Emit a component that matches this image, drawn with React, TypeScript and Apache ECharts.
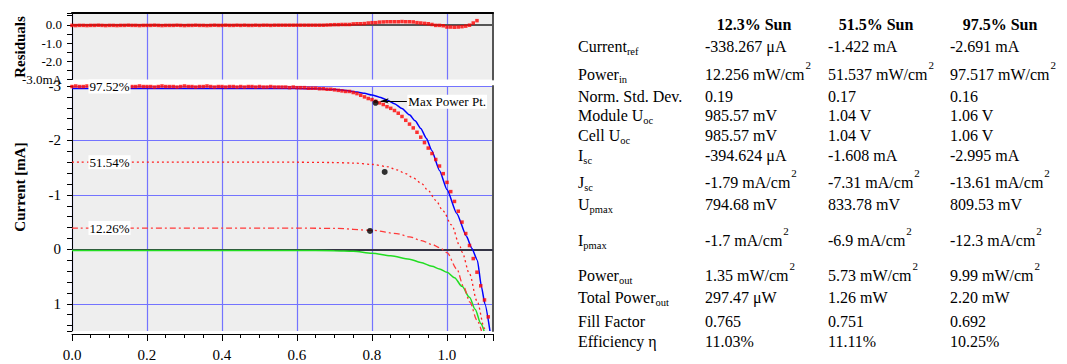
import React, { useEffect, useRef } from 'react';
import * as echarts from 'echarts';

const FONT = "'Liberation Serif', 'Times New Roman', Times, serif";
const GRID_BLUE = '#7373ff';
const BG = '#eeeeee';
const X_MAX = 1.1227;

// Voltage grid of the measured 97.5% Sun points [V]
const voltages = [
  0.00, 0.01, 0.02, 0.03, 0.04, 0.05, 0.06, 0.07, 0.08, 0.09,
  0.10, 0.11, 0.12, 0.13, 0.14, 0.15, 0.16, 0.17, 0.18, 0.19,
  0.20, 0.21, 0.22, 0.23, 0.24, 0.25, 0.26, 0.27, 0.28, 0.29,
  0.30, 0.31, 0.32, 0.33, 0.34, 0.35, 0.36, 0.37, 0.38, 0.39,
  0.40, 0.41, 0.42, 0.43, 0.44, 0.45, 0.46, 0.47, 0.48, 0.49,
  0.50, 0.51, 0.52, 0.53, 0.54, 0.55, 0.56, 0.57, 0.58, 0.59,
  0.60, 0.61, 0.62, 0.63, 0.64, 0.65, 0.66, 0.67, 0.68, 0.69,
  0.70, 0.71, 0.72, 0.73, 0.74, 0.75, 0.76, 0.77, 0.78, 0.79,
  0.80, 0.81, 0.82, 0.83, 0.84, 0.85, 0.86, 0.87, 0.88, 0.89,
  0.90, 0.91, 0.92, 0.93, 0.94, 0.95, 0.96, 0.97, 0.98, 0.99,
  1.00, 1.01, 1.02, 1.03, 1.04, 1.05, 1.06, 1.07, 1.08, 1.09,
  1.10, 1.11,
];

// Measured current at 97.5% Sun [mA]
const current975 = [
  -2.99, -3.00, -2.99, -2.99, -3.00, -2.99, -2.99, -2.98, -2.99, -3.00,
  -2.99, -2.99, -3.00, -2.99, -2.99, -2.98, -2.99, -2.99, -3.00, -2.99,
  -2.99, -2.99, -2.98, -2.99, -3.00, -2.99, -2.99, -2.99, -2.98, -2.99,
  -3.00, -2.99, -2.99, -2.98, -2.99, -2.99, -3.00, -2.99, -2.98, -2.99,
  -2.99, -2.98, -2.99, -2.99, -2.98, -2.99, -2.98, -2.99, -2.99, -2.98,
  -2.99, -2.98, -2.98, -2.99, -2.98, -2.98, -2.98, -2.98, -2.97, -2.98,
  -2.97, -2.97, -2.97, -2.96, -2.96, -2.96, -2.95, -2.95, -2.94, -2.94,
  -2.93, -2.92, -2.91, -2.90, -2.90, -2.88, -2.86, -2.83, -2.80, -2.77,
  -2.75, -2.72, -2.69, -2.66, -2.62, -2.59, -2.55, -2.50, -2.44, -2.37,
  -2.30, -2.23, -2.15, -2.06, -1.96, -1.86, -1.76, -1.65, -1.53, -1.39,
  -1.23, -1.06, -0.88, -0.70, -0.50, -0.29, -0.07, 0.17, 0.42, 0.67,
  0.93, 1.24,
];

// Residuals of the 97.5% fit [mA]
const residuals975 = [
  -0.03, -0.04, -0.03, -0.03, -0.04, -0.03, -0.03, -0.02, -0.03, -0.04,
  -0.03, -0.03, -0.04, -0.03, -0.03, -0.02, -0.03, -0.03, -0.04, -0.03,
  -0.03, -0.03, -0.02, -0.03, -0.04, -0.03, -0.03, -0.03, -0.02, -0.03,
  -0.04, -0.03, -0.03, -0.02, -0.03, -0.03, -0.04, -0.03, -0.02, -0.03,
  -0.03, -0.02, -0.03, -0.03, -0.02, -0.03, -0.02, -0.03, -0.03, -0.02,
  -0.03, -0.02, -0.02, -0.03, -0.02, -0.02, -0.02, -0.02, -0.02, -0.02,
  -0.02, -0.02, -0.02, -0.02, -0.02, -0.02, -0.02, -0.02, -0.01, 0.00,
  0.01, 0.01, 0.02, 0.02, 0.02, 0.05, 0.06, 0.06, 0.07, 0.10,
  0.12, 0.12, 0.15, 0.16, 0.17, 0.17, 0.17, 0.17, 0.18, 0.17,
  0.17, 0.16, 0.12, 0.10, 0.08, 0.06, 0.02, -0.03, -0.03, -0.05,
  -0.12, -0.12, -0.13, -0.12, -0.10, -0.07, -0.02, 0.10, 0.23,
];

// Fit curve at 97.5% Sun [V, mA]
const fit975 = [
  [0, -2.955], [0.5, -2.955], [0.6, -2.952], [0.65, -2.948], [0.7, -2.935],
  [0.72, -2.925], [0.74, -2.91], [0.76, -2.89], [0.78, -2.865], [0.8, -2.835],
  [0.82, -2.795], [0.84, -2.745], [0.86, -2.675], [0.88, -2.585], [0.9, -2.47],
  [0.915, -2.36], [0.93, -2.22], [0.945, -2.04], [0.959, -1.82], [0.98, -1.45],
  [1.0, -1.1], [1.026, -0.66], [1.052, -0.24], [1.066, -0.02], [1.081, 0.2],
  [1.092, 0.69], [1.101, 1.0], [1.1146, 1.5],
];

// Curve at 51.54% Sun [V, mA]
const curve515 = [
  [0, -1.6], [0.6, -1.6], [0.69, -1.595], [0.75, -1.585], [0.8, -1.56],
  [0.84, -1.52], [0.866, -1.46], [0.89, -1.39], [0.91, -1.31], [0.932, -1.21],
  [0.95, -1.08], [0.97, -0.9], [0.99, -0.7], [1.012, -0.45], [1.035, -0.05],
  [1.04, 0.05], [1.06, 0.45], [1.08, 0.95], [1.1, 1.45], [1.103, 1.5],
];

// Curve at 12.26% Sun [V, mA]
const curve123 = [
  [0, -0.39], [0.6, -0.39], [0.7, -0.385], [0.8, -0.35], [0.866, -0.29],
  [0.9, -0.23], [0.932, -0.16], [0.96, -0.09], [0.98, -0.03], [1.0, 0.06],
  [1.026, 0.36], [1.044, 0.68], [1.061, 0.97], [1.08, 1.3], [1.092, 1.5],
];

// Dark curve [V, mA]
const darkCurve = [
  [0, 0.02], [0.6, 0.02], [0.7, 0.025], [0.75, 0.035], [0.8, 0.07], [0.85, 0.12],
  [0.9, 0.18], [0.93, 0.24], [0.96, 0.31], [0.98, 0.36], [1.0, 0.42], [1.02, 0.52],
  [1.04, 0.68], [1.06, 0.88], [1.075, 1.1], [1.09, 1.36], [1.099, 1.5],
];

// Max power points [Upmax V, Current_ref mA]
const maxPowerPoints = [
  [0.7947, -0.338], [0.8338, -1.422], [0.8095, -2.691],
];

const levelLabels = ['97.52%', '51.54%', '12.26%'];

// Table
const tableHeaders = ['12.3% Sun', '51.5% Sun', '97.5% Sun'];
const tableRowLabels = [
  'Current{sub|ref}', 'Power{sub|in}', 'Norm. Std. Dev.', 'Module U{sub|oc}', 'Cell U{sub|oc}',
  'I{sub|sc}', 'J{sub|sc}', 'U{sub|pmax}', 'I{sub|pmax}', 'Power{sub|out}',
  'Total Power{sub|out}', 'Fill Factor', 'Efficiency η',
];
const tableSun123 = [
  '-338.267 μA', '12.256 mW/cm{sup|2}', '0.19', '985.57 mV', '985.57 mV',
  '-394.624 μA', '-1.79 mA/cm{sup|2}', '794.68 mV', '-1.7 mA/cm{sup|2}', '1.35 mW/cm{sup|2}',
  '297.47 μW', '0.765', '11.03%',
];
const tableSun515 = [
  '-1.422 mA', '51.537 mW/cm{sup|2}', '0.17', '1.04 V', '1.04 V',
  '-1.608 mA', '-7.31 mA/cm{sup|2}', '833.78 mV', '-6.9 mA/cm{sup|2}', '5.73 mW/cm{sup|2}',
  '1.26 mW', '0.751', '11.11%',
];
const tableSun975 = [
  '-2.691 mA', '97.517 mW/cm{sup|2}', '0.16', '1.06 V', '1.06 V',
  '-2.995 mA', '-13.61 mA/cm{sup|2}', '809.53 mV', '-12.3 mA/cm{sup|2}', '9.99 mW/cm{sup|2}',
  '2.20 mW', '0.692', '10.25%',
];

// layout of the table (pixels)
const ROW_Y = [46, 74, 96, 115, 135, 155, 182, 204, 240, 275, 297, 321, 341];
const HEADER_Y = 24;
const LABEL_X = 578;
const COL_X = [705, 828, 950];
const HEADER_X = [754, 876, 1000];

let measureCtx: CanvasRenderingContext2D | null = null;
function measure(text: string, size: number): number {
  if (!measureCtx) measureCtx = document.createElement('canvas').getContext('2d');
  if (!measureCtx) return text.length * size * 0.5;
  measureCtx.font = `${size}px ${FONT}`;
  return measureCtx.measureText(text).width;
}

// splits "Power{sub|in}" into text pieces, each drawn as its own text element
function tableCell(text: string, x: number, y: number): any[] {
  const parts = text.split(/(\{(?:sub|sup)\|[^}]*\})/).filter((p) => p.length > 0);
  let cx = x;
  const els: any[] = [];
  for (const p of parts) {
    const m = p.match(/^\{(sub|sup)\|([^}]*)\}$/);
    const kind = m ? m[1] : 'main';
    const t = m ? m[2] : p;
    const size = kind === 'main' ? 16 : kind === 'sub' ? 10.5 : 11;
    const dy = kind === 'main' ? 0 : kind === 'sub' ? 5 : -9;
    els.push({
      type: 'text', x: cx + (kind === 'sup' ? 1 : 0), y: y + dy, silent: true,
      style: { text: t, fontSize: size, fontFamily: FONT, fill: '#000', align: 'left', verticalAlign: 'middle' },
    });
    cx += measure(t, size);
  }
  return els;
}

const xFmt = (v: number) => (Math.abs(v * 5 - Math.round(v * 5)) < 1e-6 ? v.toFixed(1) : '');
const yMainFmt = (v: number) => (Math.abs(v - Math.round(v)) < 1e-6 ? String(Math.round(v)) : '');
const yResFmt = (v: number) => {
  if (Math.abs(v - Math.round(v)) > 1e-6) return '';
  const r = Math.round(v);
  return r === -3 ? '-3.0mA' : r.toFixed(1);
};

export default function App() {
  const ref = useRef<HTMLDivElement>(null);
  useEffect(() => {
    if (!ref.current) return;
    const chart = echarts.init(ref.current, undefined, { renderer: 'svg' });

    const measured = voltages.map((v, i) => [v, current975[i]]);
    const residualPts = residuals975.map((r, i) => [voltages[i], r]);

    const labelStyle = {
      show: true,
      position: 'inside',
      color: '#000',
      fontSize: 13,
      fontFamily: FONT,
      backgroundColor: '#ffffff',
      padding: [1, 1, 0, 1],
    };
    const levelStarts = [fit975[0][1] - 0.035, curve515[0][1], curve123[0][1]];

    const blackAxis = { show: true, onZero: false, lineStyle: { color: '#000', width: 1 } };
    const tickStyle = { color: '#000', width: 1 };

    const tableEls: any[] = [];
    tableHeaders.forEach((h, i) => {
      tableEls.push({
        type: 'text', x: HEADER_X[i], y: HEADER_Y, silent: true,
        style: { text: h, fontSize: 16, fontWeight: 'bold', fontFamily: FONT, fill: '#000', align: 'center', verticalAlign: 'middle' },
      });
    });
    tableRowLabels.forEach((t, r) => tableEls.push(...tableCell(t, LABEL_X, ROW_Y[r])));
    tableSun123.forEach((t, r) => tableEls.push(...tableCell(t, COL_X[0], ROW_Y[r])));
    tableSun515.forEach((t, r) => tableEls.push(...tableCell(t, COL_X[1], ROW_Y[r])));
    tableSun975.forEach((t, r) => tableEls.push(...tableCell(t, COL_X[2], ROW_Y[r])));

    const option = {
      animation: false,
      grid: [
        { left: 72, top: 13, width: 421, height: 66.5, show: true, backgroundColor: BG, borderWidth: 0 },
        { left: 72, top: 86, width: 421, height: 245, show: true, backgroundColor: BG, borderWidth: 0 },
      ],
      xAxis: [
        {
          gridIndex: 0, type: 'value', min: 0, max: X_MAX, interval: 0.2, position: 'top',
          axisLine: { show: true, onZero: false, lineStyle: { color: '#000', width: 2 } },
          axisTick: { show: false }, axisLabel: { show: false },
          splitLine: { show: true, showMaxLine: false, lineStyle: { color: GRID_BLUE, width: 1.2 } },
        },
        {
          gridIndex: 1, type: 'value', min: 0, max: X_MAX, interval: 0.2, position: 'bottom', offset: 3,
          axisLine: blackAxis,
          axisTick: { show: true, length: 7, lineStyle: tickStyle },
          axisLabel: { show: true, margin: 13, fontSize: 15, fontFamily: FONT, color: '#000', formatter: xFmt },
          splitLine: { show: true, showMaxLine: false, lineStyle: { color: GRID_BLUE, width: 1.2 } },
        },
        {
          gridIndex: 1, type: 'value', min: 0, max: X_MAX, interval: 0.05, position: 'bottom', offset: 3,
          axisLine: { show: false, onZero: false },
          axisTick: { show: true, length: 4, lineStyle: tickStyle },
          axisLabel: { show: false }, splitLine: { show: false },
        },
      ],
      yAxis: [
        {
          gridIndex: 0, type: 'value', min: -3, max: 0.65, interval: 0.5, position: 'left',
          axisLine: blackAxis,
          axisTick: { show: true, length: 5, lineStyle: tickStyle },
          axisLabel: { show: true, margin: 10, fontSize: 13, fontFamily: FONT, color: '#000', formatter: yResFmt },
          splitLine: { show: false },
        },
        {
          gridIndex: 0, type: 'value', min: -3, max: 0.65, position: 'right',
          axisLine: { show: true, onZero: false, lineStyle: { color: '#555', width: 2 } },
          axisTick: { show: false }, axisLabel: { show: false }, splitLine: { show: false },
        },
        {
          gridIndex: 1, type: 'value', inverse: true, min: -3, max: 1.5, interval: 1, position: 'left',
          axisLine: blackAxis,
          axisTick: { show: true, length: 5, lineStyle: tickStyle },
          axisLabel: { show: true, margin: 11, fontSize: 15, fontFamily: FONT, color: '#000', formatter: yMainFmt },
          splitLine: { show: true, showMaxLine: false, lineStyle: { color: GRID_BLUE, width: 1.2 } },
        },
        {
          gridIndex: 1, type: 'value', inverse: true, min: -3, max: 1.5, interval: 0.2, position: 'left',
          axisLine: { show: false, onZero: false },
          axisTick: { show: true, length: 5, lineStyle: tickStyle },
          axisLabel: { show: false }, splitLine: { show: false },
        },
        {
          gridIndex: 1, type: 'value', inverse: true, min: -3, max: 1.5, position: 'right',
          axisLine: { show: true, onZero: false, lineStyle: { color: '#555', width: 2 } },
          axisTick: { show: false }, axisLabel: { show: false }, splitLine: { show: false },
        },
      ],
      series: [
        {
          type: 'line', xAxisIndex: 0, yAxisIndex: 0, data: [[0, 0]], showSymbol: false, z: 1,
          lineStyle: { opacity: 0 }, silent: true,
          markLine: {
            silent: true, symbol: 'none', label: { show: false }, z: 1,
            lineStyle: { color: '#555', width: 2, type: 'solid' }, data: [{ yAxis: 0 }],
          },
        },
        {
          type: 'scatter', xAxisIndex: 0, yAxisIndex: 0, data: residualPts, symbol: 'rect',
          symbolSize: 3.5, itemStyle: { color: '#ff0000' }, z: 3, silent: true,
        },
        {
          type: 'line', xAxisIndex: 1, yAxisIndex: 2, data: [[0, 0]], showSymbol: false, z: 1,
          lineStyle: { opacity: 0 }, silent: true,
          markLine: {
            silent: true, symbol: 'none', label: { show: false }, z: 1,
            lineStyle: { color: '#333344', width: 2, type: 'solid' }, data: [{ yAxis: 0 }],
          },
        },
        {
          type: 'line', xAxisIndex: 1, yAxisIndex: 2, data: darkCurve, showSymbol: false, z: 3,
          smooth: 0.3, smoothMonotone: 'x', lineStyle: { color: '#22dd22', width: 1.5 }, silent: true,
        },
        {
          type: 'line', xAxisIndex: 1, yAxisIndex: 2, data: curve123, showSymbol: false, z: 3,
          smooth: 0.3, smoothMonotone: 'x', lineStyle: { color: '#ff3a3a', width: 1.3, type: [6, 3, 2, 3] }, silent: true,
        },
        {
          type: 'line', xAxisIndex: 1, yAxisIndex: 2, data: curve515, showSymbol: false, z: 3,
          smooth: 0.3, smoothMonotone: 'x', lineStyle: { color: '#ff2020', width: 1.3, type: [2, 3] }, silent: true,
        },
        {
          type: 'line', xAxisIndex: 1, yAxisIndex: 2, data: fit975, showSymbol: false, z: 4,
          smooth: 0.2, smoothMonotone: 'x', lineStyle: { color: '#0000ff', width: 1.5 }, silent: true,
        },
        {
          type: 'scatter', xAxisIndex: 1, yAxisIndex: 2, data: measured, symbol: 'rect',
          symbolSize: 3.5, itemStyle: { color: '#ff0000' }, z: 5, silent: true,
        },
        {
          type: 'scatter', xAxisIndex: 1, yAxisIndex: 2, data: maxPowerPoints, symbol: 'circle',
          symbolSize: 6, itemStyle: { color: '#000' }, z: 10, silent: true,
          markLine: {
            silent: true, symbol: ['none', 'arrow'], symbolSize: [4, 8], label: { show: false }, z: 20,
            lineStyle: { color: '#000', width: 1, type: 'solid' },
            data: [[{ coord: [0.893, -2.726] }, { coord: [0.823, -2.726] }]],
          },
          markPoint: {
            silent: true, symbol: 'rect', symbolSize: 1, z: 20, itemStyle: { color: 'rgba(0,0,0,0)' },
            data: [
              ...levelLabels.map((t, i) => ({ coord: [0.1, levelStarts[i]], value: t, label: { ...labelStyle, formatter: t } })),
              {
                coord: [0.893, -2.71], value: 'Max Power Pt.',
                label: { ...labelStyle, position: 'right', distance: 0, formatter: 'Max Power Pt.' },
              },
            ],
          },
        },
      ],
      graphic: [
        {
          type: 'text', x: 20, y: 47, rotation: Math.PI / 2, silent: true,
          style: { text: 'Residuals', fontSize: 15, fontWeight: 'bold', fontFamily: FONT, fill: '#000', align: 'center', verticalAlign: 'middle' },
        },
        {
          type: 'text', x: 20, y: 187, rotation: Math.PI / 2, silent: true,
          style: { text: 'Current [mA]', fontSize: 15, fontWeight: 'bold', fontFamily: FONT, fill: '#000', align: 'center', verticalAlign: 'middle' },
        },
        ...tableEls,
      ],
    };
    chart.setOption(option as any);
    return () => chart.dispose();
  }, []);
  return (
    <div
      ref={ref}
      style={{ position: 'absolute', left: 0, top: 0, width: 1067, height: 364, background: '#fff' }}
    />
  );
}
